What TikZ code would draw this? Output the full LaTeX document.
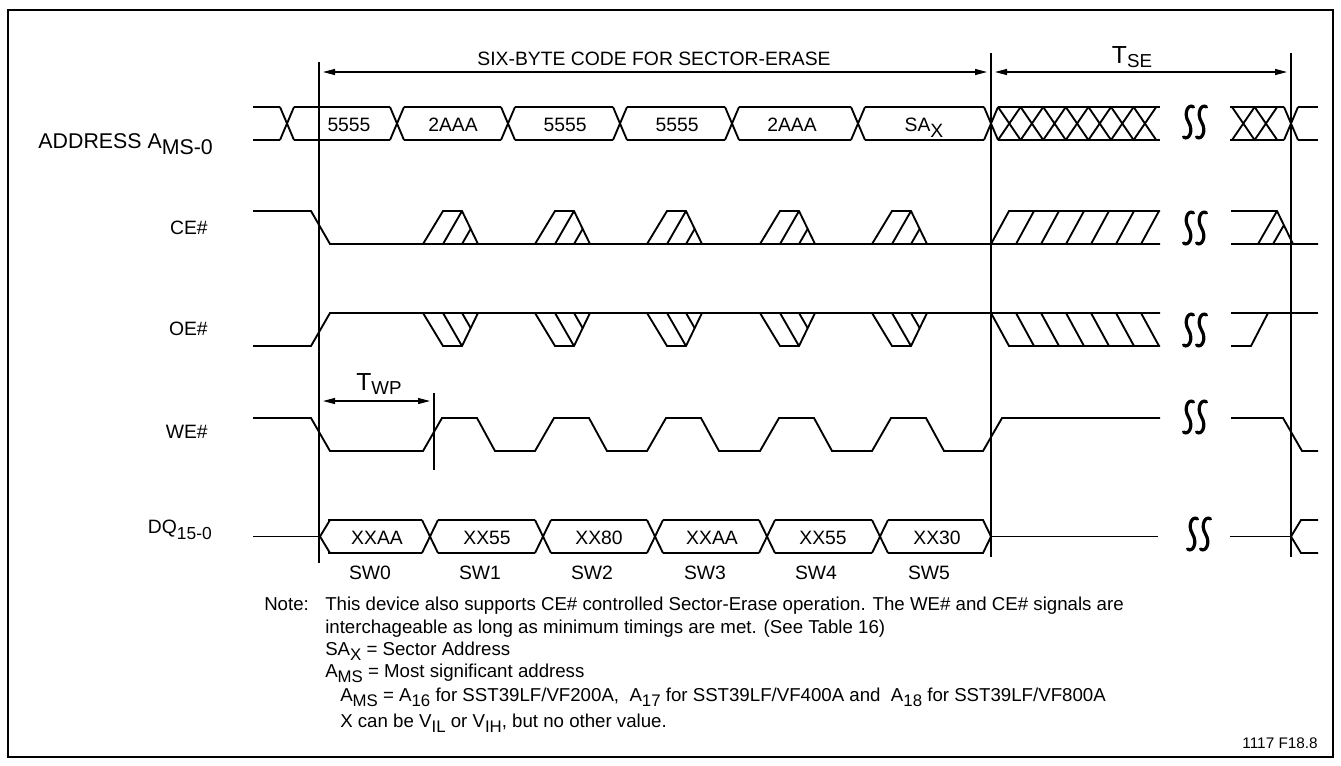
\documentclass[tikz,border=0pt]{standalone}
\usepackage{fontspec}
\setmainfont{Liberation Sans}
\usepackage{graphicx}
\usetikzlibrary{arrows.meta}
\newcommand{\dn}[1]{\raisebox{-0.32em}{\scalebox{0.9}{#1}}}
\newcommand{\dnf}[1]{\raisebox{-0.3em}{#1}}
\newcommand{\tsub}[1]{\raisebox{-0.2em}{\scalebox{0.76}{#1}}}
\begin{document}
\begin{tikzpicture}[x=0.75pt,y=-0.75pt,
  sig/.style={line width=1.4pt, line join=miter, line cap=butt},
  guide/.style={line width=0.9pt},
  dim/.style={line width=0.9pt, {Triangle[length=9pt,width=4.5pt]}-{Triangle[length=9pt,width=4.5pt]}, shorten <=3pt, shorten >=3pt},
  lbl/.style={font=\fontsize{14.5}{17}\selectfont, inner sep=0pt},
  blbl/.style={lbl, anchor=base},
  sigl/.style={lbl, anchor=base east},
  note/.style={font=\fontsize{14}{16}\selectfont, inner sep=0pt, anchor=base west},
  brk/.pic={
    \foreach \dx in {-6.5,6.5}{
      \draw[line width=2.4pt, line cap=round] (\dx+5,-15) .. controls (\dx+0,-19) and (\dx-5.5,-9) .. (\dx,0) .. controls (\dx+5.5,9) and (\dx+0,19) .. (\dx-5,15);
    }
  }
]
\useasboundingbox (0,0) rectangle (1341,765);
\draw[line width=1.5pt] (8,10) rectangle (1333,757);

% guide lines
\coordinate (g1t) at (319,62);  \coordinate (g1b) at (319,563);
\coordinate (g2t) at (991,53);  \coordinate (g2b) at (991,557);
\coordinate (g3t) at (1291,53); \coordinate (g3b) at (1291,557);
\coordinate (g4t) at (434,393); \coordinate (g4b) at (434,470);
\draw[guide] (g1t) -- (g1b);
\draw[guide] (g2t) -- (g2b);
\draw[guide] (g3t) -- (g3b);
\draw[guide] (g4t) -- (g4b);

% dimension arrows
\coordinate (a1) at (319,72); \coordinate (a2) at (991,72); \coordinate (a3) at (1291,72);
\coordinate (w1) at (319,401); \coordinate (w2) at (434,401);
\draw[dim] (a1) -- (a2);
\draw[dim] (a2) -- (a3);
\draw[dim] (w1) -- (w2);
\node[blbl] (six) at (654,65) {SIX-BYTE CODE FOR SECTOR-ERASE};
\node[blbl, font=\fontsize{18.5}{20}\selectfont] (tse) at (1132,63) {T\tsub{SE}};
\node[blbl, font=\fontsize{18.5}{20}\selectfont] (twp) at (379,390) {T\tsub{WP}};

% signal labels
\node[sigl, font=\fontsize{16}{18}\selectfont] (la) at (213,148) {ADDRESS A\dnf{MS-0}};
\node[sigl] (lce) at (208,234) {CE\#};
\node[sigl] (loe) at (208,335) {OE\#};
\node[sigl] (lwe) at (208,438) {WE\#};
\node[sigl] (ldq) at (212,533) {DQ\dn{15-0}};

% ---------- ADDRESS ----------
\draw[sig] (253,107) -- (280,107) (253,140) -- (280,140);
\foreach \a/\b in {287/397,397/508,508/620,620/732,732/858,858/991}{
  \draw[sig] (\a+7,107) -- (\b-7,107) (\a+7,140) -- (\b-7,140);
}
\foreach \c in {287,397,508,620,732,858,991}{
  \draw[sig] (\c-7,107) -- (\c+7,140) (\c-7,140) -- (\c+7,107);
}
\draw[sig] (998,107) -- (1160,107) (998,140) -- (1160,140);
\foreach \k in {0,...,6}{
  \draw[sig] ({998+22.6*\k},107) -- ({998+22.6*(\k+1)},140) ({998+22.6*\k},140) -- ({998+22.6*(\k+1)},107);
}
\draw[sig] (1230,107) -- (1284,107) (1230,140) -- (1284,140);
\foreach \k in {0,1}{
  \draw[sig] ({1232+22.6*\k},107) -- ({1232+22.6*(\k+1)},140) ({1232+22.6*\k},140) -- ({1232+22.6*(\k+1)},107);
}
\draw[sig] (1284,107) -- (1298,140) (1284,140) -- (1298,107);
\draw[sig] (1298,107) -- (1318,107) (1298,140) -- (1318,140);
\node[blbl] (ad1) at (349,131.5) {5555};
\node[blbl] (ad2) at (453,131.5) {2AAA};
\node[blbl] (ad3) at (565,131.5) {5555};
\node[blbl] (ad4) at (677,131.5) {5555};
\node[blbl] (ad5) at (792,131.5) {2AAA};
\node[blbl] (ad6) at (924,131.5) {SA\dnf{X}};
\pic at (1195,122) {brk};

% ---------- CE# ----------
\draw[sig] (253,211) -- (311,211) -- (330,244) -- (1160,244);
\foreach \p in {423,535,647,760,872}{
  \draw[sig] (\p,244) -- (\p+20,211) -- (\p+39,211) -- (\p+55,244);
  \draw[sig] (\p+20,244) -- (\p+39,211);
  \draw[sig] (\p+39,244) -- (\p+47.7,228.9);
}
\draw[sig] (991,244) -- (1009,211) -- (1160,211);
\foreach \h in {1016,1041,1066,1091,1116,1141}{
  \draw[sig] (\h,244) -- (\h+18,211);
}
\draw[sig] (1231,211) -- (1277,211) -- (1293,244) -- (1318,244);
\draw[sig] (1231,244) -- (1293,244);
\draw[sig] (1258,244) -- (1277,211);
\draw[sig] (1273,244) -- (1284,225);
\pic at (1195,228) {brk};

% ---------- OE# ----------
\draw[sig] (253,346) -- (311,346) -- (330,313) -- (1160,313);
\foreach \p in {423,535,647,760,872}{
  \draw[sig] (\p,313) -- (\p+20,346) -- (\p+39,346) -- (\p+55,313);
  \draw[sig] (\p+20,313) -- (\p+39,346);
  \draw[sig] (\p+39,313) -- (\p+47.7,328.1);
}
\draw[sig] (991,313) -- (1009,346) -- (1160,346);
\foreach \h in {1016,1041,1066,1091,1116,1141}{
  \draw[sig] (\h,313) -- (\h+18,346);
}
\draw[sig] (1231,313) -- (1318,313);
\draw[sig] (1231,346) -- (1251,346) -- (1268,313);
\pic at (1195,330) {brk};

% ---------- WE# ----------
\draw[sig] (253,418) -- (311,418) -- (330,451) -- (423,451)
  -- (442,418) -- (477,418) -- (495,451) -- (535,451)
  -- (554,418) -- (589,418) -- (607,451) -- (647,451)
  -- (666,418) -- (701,418) -- (719,451) -- (760,451)
  -- (779,418) -- (814,418) -- (832,451) -- (872,451)
  -- (891,418) -- (926,418) -- (944,451) -- (983,451)
  -- (1002,418) -- (1160,418);
\draw[sig] (1231,418) -- (1283,418) -- (1302,451) -- (1318,451);
\pic at (1195,417) {brk};

% ---------- DQ ----------
\draw[sig] (253,536.5) -- (320,536.5);
\draw[sig] (330,520) -- (320,536.5) -- (330,553);
\foreach \a/\b in {320/430,430/543,543/655,655/767,767/880}{
  \draw[sig] (\a+8,520) -- (\b-8,520) (\a+8,553) -- (\b-8,553);
}
\draw[sig] (888,520) -- (983,520) -- (991,536.5) -- (983,553) -- (888,553);
\foreach \c in {430,543,655,767,880}{
  \draw[sig] (\c-8,520) -- (\c+8,553) (\c-8,553) -- (\c+8,520);
}
\draw[sig] (991,536.5) -- (1158,536.5);
\draw[sig] (1230,536.5) -- (1291,536.5);
\draw[sig] (1318,520) -- (1301,520) -- (1291,536.5) -- (1301,553) -- (1318,553);
\pic at (1199,534) {brk};
\node[blbl] (d1) at (377,544) {XXAA};
\node[blbl] (d2) at (487,544) {XX55};
\node[blbl] (d3) at (599,544) {XX80};
\node[blbl] (d4) at (712,544) {XXAA};
\node[blbl] (d5) at (823,544) {XX55};
\node[blbl] (d6) at (937,544) {XX30};
\node[blbl] (s0) at (370,579) {SW0};
\node[blbl] (s1) at (480,579) {SW1};
\node[blbl] (s2) at (592,579) {SW2};
\node[blbl] (s3) at (705,579) {SW3};
\node[blbl] (s4) at (816,579) {SW4};
\node[blbl] (s5) at (929,579) {SW5};

% ---------- notes ----------
\node[note] (n0) at (264,610) {Note:};
\node[note] (n1) at (325,610) {This device also supports CE\# controlled Sector-Erase operation. The WE\# and CE\# signals are};
\node[note] (n2) at (325,633) {interchageable as long as minimum timings are met. (See Table 16)};
\node[note] (n3) at (325,655) {SA\dn{X} = Sector Address};
\node[note] (n4) at (325,677) {A\dn{MS} = Most significant address};
\node[note] (n5) at (340,701) {A\dn{MS} = A\dn{16} for SST39LF/VF200A,\ \ A\dn{17} for SST39LF/VF400A and\ \ A\dn{18} for SST39LF/VF800A};
\node[note] (n6) at (340,727) {X can be V\dn{IL} or V\dn{IH}, but no other value.};
\node[note, anchor=base east, font=\fontsize{11.5}{13}\selectfont] (fig) at (1318,748) {1117 F18.8};
\end{tikzpicture}
\end{document}
